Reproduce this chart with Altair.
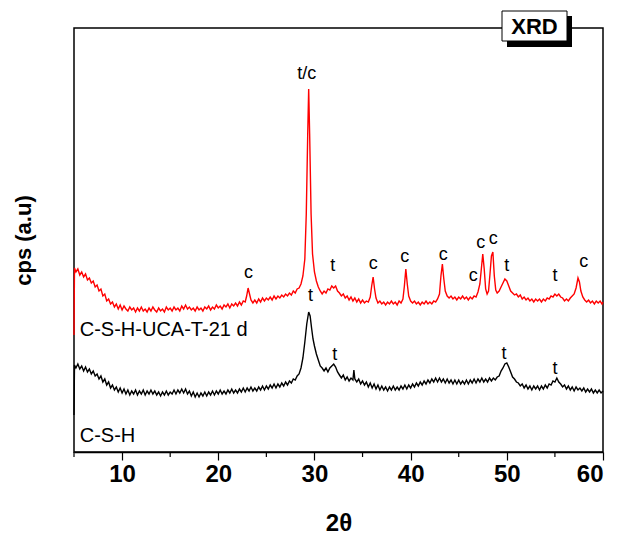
import altair as alt
import pandas as pd

# Diffraction scans: (2θ in degrees, intensity in arbitrary cps units)
red_scan = [
    (5.0, 119), (5.05, 186), (5.2, 182), (5.4, 185), (5.6, 179), (5.8, 182), (6.0, 177), (6.2, 180),
    (6.4, 174), (6.6, 176), (6.8, 171), (7.0, 173), (7.2, 167), (7.4, 169), (7.6, 163), (7.8, 165),
    (8.0, 158), (8.2, 160), (8.4, 153), (8.6, 155), (8.8, 150), (9.0, 152), (9.2, 147), (9.4, 150),
    (9.6, 145), (9.8, 149), (10.0, 144), (10.2, 148), (10.4, 145), (10.6, 143), (10.8, 147), (11.0, 144),
    (11.2, 146), (11.4, 142), (11.6, 146), (11.8, 143), (12.0, 147), (12.2, 143), (12.4, 145), (12.6, 142),
    (12.8, 146), (13.0, 143), (13.2, 147), (13.4, 144), (13.6, 142), (13.8, 146), (14.0, 143), (14.2, 145),
    (14.4, 142), (14.6, 147), (14.8, 144), (15.0, 146), (15.2, 143), (15.4, 147), (15.6, 144), (15.8, 146),
    (16.0, 143), (16.2, 148), (16.4, 145), (16.6, 149), (16.8, 145), (17.0, 147), (17.2, 144), (17.4, 146),
    (17.6, 143), (17.8, 147), (18.0, 144), (18.2, 146), (18.4, 143), (18.6, 147), (18.8, 145), (19.0, 148),
    (19.2, 144), (19.4, 147), (19.6, 145), (19.8, 149), (20.0, 146), (20.2, 148), (20.4, 145), (20.6, 149),
    (20.8, 147), (21.0, 150), (21.2, 146), (21.4, 150), (21.6, 148), (21.8, 151), (22.0, 148), (22.2, 152),
    (22.4, 149), (22.6, 153), (22.8, 152), (22.95, 158), (23.1, 166), (23.25, 160), (23.4, 154), (23.6, 151),
    (23.8, 154), (24.0, 151), (24.2, 155), (24.4, 152), (24.6, 156), (24.8, 153), (25.0, 156), (25.2, 154),
    (25.4, 157), (25.6, 154), (25.8, 158), (26.0, 155), (26.2, 158), (26.4, 156), (26.6, 159), (26.8, 157),
    (27.0, 160), (27.2, 158), (27.4, 161), (27.6, 159), (27.8, 163), (28.0, 161), (28.2, 165), (28.4, 166),
    (28.6, 170), (28.8, 178), (29.0, 195), (29.15, 240), (29.3, 320), (29.4, 365), (29.5, 320), (29.65, 240),
    (29.8, 200), (30.0, 182), (30.2, 173), (30.4, 167), (30.6, 163), (30.8, 160), (31.0, 163), (31.2, 161),
    (31.4, 165), (31.6, 164), (31.8, 168), (32.0, 166), (32.2, 168), (32.4, 163), (32.6, 161), (32.8, 158),
    (33.0, 160), (33.2, 156), (33.4, 158), (33.6, 154), (33.8, 157), (34.0, 153), (34.2, 156), (34.4, 152),
    (34.6, 155), (34.8, 151), (35.0, 154), (35.2, 151), (35.4, 153), (35.6, 152), (35.8, 157), (35.95, 168),
    (36.1, 177), (36.25, 165), (36.4, 156), (36.6, 151), (36.8, 153), (37.0, 150), (37.2, 152), (37.4, 149),
    (37.6, 152), (37.8, 150), (38.0, 153), (38.2, 150), (38.4, 152), (38.6, 149), (38.8, 153), (39.0, 151),
    (39.2, 155), (39.35, 168), (39.5, 185), (39.65, 170), (39.8, 158), (40.0, 153), (40.2, 151), (40.4, 153),
    (40.6, 150), (40.8, 152), (41.0, 149), (41.2, 152), (41.4, 150), (41.6, 153), (41.8, 150), (42.0, 152),
    (42.2, 150), (42.4, 153), (42.6, 152), (42.8, 155), (43.0, 160), (43.15, 178), (43.3, 190), (43.45, 175),
    (43.6, 163), (43.8, 158), (44.0, 156), (44.2, 158), (44.4, 155), (44.6, 157), (44.8, 154), (45.0, 157),
    (45.2, 155), (45.4, 158), (45.6, 155), (45.8, 157), (46.0, 154), (46.2, 157), (46.4, 155), (46.6, 158),
    (46.8, 157), (47.0, 162), (47.2, 170), (47.35, 185), (47.5, 200), (47.65, 185), (47.8, 165), (47.95, 160),
    (48.1, 163), (48.25, 180), (48.4, 198), (48.55, 202), (48.7, 178), (48.85, 164), (49.0, 161), (49.2, 163),
    (49.4, 167), (49.6, 171), (49.8, 175), (50.0, 173), (50.2, 168), (50.4, 163), (50.6, 161), (50.8, 159),
    (51.0, 160), (51.2, 157), (51.4, 159), (51.6, 155), (51.8, 157), (52.0, 154), (52.2, 156), (52.4, 153),
    (52.6, 155), (52.8, 152), (53.0, 155), (53.2, 153), (53.4, 155), (53.6, 152), (53.8, 155), (54.0, 153),
    (54.2, 156), (54.4, 155), (54.6, 158), (54.8, 157), (55.0, 160), (55.2, 158), (55.4, 160), (55.6, 157),
    (55.8, 156), (56.0, 153), (56.2, 155), (56.4, 153), (56.6, 156), (56.8, 158), (57.0, 160), (57.2, 166),
    (57.4, 176), (57.55, 172), (57.7, 163), (57.9, 157), (58.1, 154), (58.3, 152), (58.5, 154), (58.7, 151),
    (58.9, 153), (59.1, 150), (59.3, 153), (59.5, 151), (59.7, 153), (59.9, 150), (60.0, 152),
]

black_scan = [
    (5.0, 39), (5.05, 89), (5.2, 86), (5.4, 90), (5.6, 85), (5.8, 88), (6.0, 83), (6.2, 87),
    (6.4, 82), (6.6, 85), (6.8, 80), (7.0, 83), (7.2, 78), (7.4, 80), (7.6, 75), (7.8, 78),
    (8.0, 72), (8.2, 75), (8.4, 69), (8.6, 72), (8.8, 66), (9.0, 69), (9.2, 64), (9.4, 67),
    (9.6, 62), (9.8, 66), (10.0, 61), (10.2, 65), (10.4, 60), (10.6, 64), (10.8, 59), (11.0, 63),
    (11.2, 60), (11.4, 64), (11.6, 59), (11.8, 63), (12.0, 60), (12.2, 64), (12.4, 59), (12.6, 63),
    (12.8, 60), (13.0, 64), (13.2, 60), (13.4, 63), (13.6, 59), (13.8, 62), (14.0, 58), (14.2, 62),
    (14.4, 59), (14.6, 63), (14.8, 59), (15.0, 62), (15.2, 60), (15.4, 64), (15.6, 60), (15.8, 64),
    (16.0, 61), (16.2, 65), (16.4, 61), (16.6, 65), (16.8, 60), (17.0, 63), (17.2, 58), (17.4, 62),
    (17.6, 57), (17.8, 61), (18.0, 57), (18.2, 61), (18.4, 58), (18.6, 62), (18.8, 58), (19.0, 62),
    (19.2, 59), (19.4, 63), (19.6, 59), (19.8, 63), (20.0, 60), (20.2, 64), (20.4, 60), (20.6, 63),
    (20.8, 60), (21.0, 64), (21.2, 61), (21.4, 65), (21.6, 61), (21.8, 64), (22.0, 61), (22.2, 65),
    (22.4, 62), (22.6, 66), (22.8, 62), (23.0, 66), (23.2, 63), (23.4, 67), (23.6, 63), (23.8, 66),
    (24.0, 63), (24.2, 67), (24.4, 64), (24.6, 68), (24.8, 64), (25.0, 68), (25.2, 65), (25.4, 69),
    (25.6, 66), (25.8, 70), (26.0, 66), (26.2, 70), (26.4, 67), (26.6, 71), (26.8, 68), (27.0, 72),
    (27.2, 69), (27.4, 73), (27.6, 71), (27.8, 75), (28.0, 74), (28.2, 78), (28.4, 80), (28.6, 86),
    (28.8, 96), (29.0, 112), (29.2, 130), (29.4, 142), (29.55, 138), (29.7, 126), (29.85, 115), (30.0, 108),
    (30.2, 100), (30.4, 94), (30.6, 88), (30.8, 86), (31.0, 83), (31.2, 86), (31.4, 82), (31.6, 86),
    (31.8, 88), (32.0, 90), (32.2, 87), (32.4, 82), (32.6, 79), (32.8, 76), (33.0, 79), (33.2, 74),
    (33.4, 77), (33.6, 73), (33.8, 76), (34.0, 74), (34.1, 84), (34.2, 75), (34.4, 72), (34.6, 75),
    (34.8, 70), (35.0, 73), (35.2, 69), (35.4, 72), (35.6, 67), (35.8, 71), (36.0, 66), (36.2, 70),
    (36.4, 65), (36.6, 69), (36.8, 64), (37.0, 68), (37.2, 64), (37.4, 67), (37.6, 63), (37.8, 67),
    (38.0, 64), (38.2, 68), (38.4, 64), (38.6, 67), (38.8, 64), (39.0, 68), (39.2, 65), (39.4, 69),
    (39.6, 65), (39.8, 69), (40.0, 66), (40.2, 70), (40.4, 67), (40.6, 71), (40.8, 68), (41.0, 72),
    (41.2, 69), (41.4, 73), (41.6, 70), (41.8, 74), (42.0, 71), (42.2, 75), (42.4, 72), (42.6, 76),
    (42.8, 72), (43.0, 76), (43.2, 72), (43.4, 75), (43.6, 71), (43.8, 75), (44.0, 71), (44.2, 74),
    (44.4, 70), (44.6, 74), (44.8, 70), (45.0, 74), (45.2, 70), (45.4, 73), (45.6, 70), (45.8, 74),
    (46.0, 70), (46.2, 74), (46.4, 71), (46.6, 75), (46.8, 71), (47.0, 75), (47.2, 72), (47.4, 76),
    (47.6, 72), (47.8, 75), (48.0, 72), (48.2, 76), (48.4, 73), (48.6, 76), (48.8, 74), (49.0, 77),
    (49.2, 78), (49.4, 83), (49.6, 86), (49.8, 90), (50.0, 91), (50.2, 87), (50.4, 82), (50.6, 77),
    (50.8, 75), (51.0, 72), (51.2, 71), (51.4, 68), (51.6, 70), (51.8, 66), (52.0, 69), (52.2, 65),
    (52.4, 68), (52.6, 64), (52.8, 68), (53.0, 65), (53.2, 68), (53.4, 64), (53.6, 68), (53.8, 65),
    (54.0, 69), (54.2, 66), (54.4, 70), (54.6, 69), (54.8, 73), (55.0, 72), (55.2, 76), (55.4, 72),
    (55.6, 70), (55.8, 67), (56.0, 69), (56.2, 65), (56.4, 68), (56.6, 64), (56.8, 67), (57.0, 63),
    (57.2, 67), (57.4, 64), (57.6, 66), (57.8, 63), (58.0, 66), (58.2, 62), (58.4, 65), (58.6, 62),
    (58.8, 65), (59.0, 61), (59.2, 64), (59.4, 61), (59.6, 64), (59.8, 61), (60.0, 63),
]

sample_names = ["C-S-H-UCA-T-21 d", "C-S-H"]
sample_colors = ["#ff0000", "#000000"]
sample_label_2theta = [5.6, 5.6]
sample_label_cps = [124, 18]

# Phase markers (t = tobermorite, c = calcite)
peak_phase = ["t/c", "c", "t", "c", "c", "c", "c", "c", "c", "t", "t", "c",
              "t", "t", "t", "t"]
peak_2theta = [29.2, 23.15, 31.9, 36.1, 39.4, 43.4, 46.5, 47.3, 48.6, 50.0, 55.0, 58.0,
               29.6, 32.1, 49.7, 55.0]
peak_cps = [380, 181, 188, 190, 197, 199, 178, 211, 215, 188, 178, 192,
            158, 99, 100, 85]

major_ticks = [10, 20, 30, 40, 50, 60]
minor_ticks = [5, 15, 25, 35, 45, 55]

FONT = "Liberation Sans"
W, H = 529, 424

rows = []
for name, scan in zip(sample_names, [red_scan, black_scan]):
    for tt, c in scan:
        rows.append({"two_theta": tt, "cps": c, "sample": name})
scan_df = pd.DataFrame(rows)

peaks_df = pd.DataFrame({"two_theta": peak_2theta, "cps": peak_cps, "phase": peak_phase})
names_df = pd.DataFrame({"two_theta": sample_label_2theta, "cps": sample_label_cps,
                         "sample": sample_names})
minor_df = pd.DataFrame({"two_theta": minor_ticks})

x_scale = alt.Scale(domain=[5, 60], nice=False, zero=False)
y_scale = alt.Scale(domain=[2, 426], nice=False, zero=False)

x_enc = alt.X(
    "two_theta:Q", scale=x_scale,
    axis=alt.Axis(
        title="2θ", values=major_ticks, format="d", grid=False,
        labelFont=FONT, labelFontSize=24, labelFontWeight="bold", labelColor="black",
        labelPadding=2, tickSize=8, tickColor="black", tickWidth=1.2,
        domainColor="black", domainWidth=1.5,
        titleFont=FONT, titleFontSize=24, titleFontWeight="bold", titleColor="black",
        titlePadding=25,
    ),
)
y_enc = alt.Y(
    "cps:Q", scale=y_scale,
    axis=alt.Axis(
        title="cps (a.u)", labels=False, ticks=False, domain=False, grid=False,
        titleFont=FONT, titleFontSize=22, titleFontWeight="bold", titleColor="black",
        titlePadding=39,
    ),
)

lines = alt.Chart(scan_df).mark_line(strokeWidth=1.4).encode(
    x=x_enc,
    y=y_enc,
    color=alt.Color("sample:N", scale=alt.Scale(domain=sample_names, range=sample_colors),
                    legend=None),
    order=alt.Order("two_theta:Q"),
)

peak_text = alt.Chart(peaks_df).mark_text(
    font=FONT, fontSize=18, color="black", baseline="middle", align="center"
).encode(x=alt.X("two_theta:Q", scale=x_scale), y=alt.Y("cps:Q", scale=y_scale),
         text="phase:N")

name_text = alt.Chart(names_df).mark_text(
    font=FONT, fontSize=20, color="black", baseline="middle", align="left"
).encode(x=alt.X("two_theta:Q", scale=x_scale), y=alt.Y("cps:Q", scale=y_scale),
         text="sample:N")

minor = alt.Chart(minor_df).mark_rule(color="black", strokeWidth=1.2).encode(
    x=alt.X("two_theta:Q", scale=x_scale), y=alt.value(H), y2=alt.value(H + 5)
)

# "XRD" tag with drop shadow, sitting on the top frame line
tag_df = pd.DataFrame({"label": ["XRD"]})
tag_shadow = alt.Chart(tag_df).mark_rect(color="black").encode(
    x=alt.value(433), x2=alt.value(498), y=alt.value(-12), y2=alt.value(19)
)
tag_box = alt.Chart(tag_df).mark_rect(fill="white", stroke="black", strokeWidth=1).encode(
    x=alt.value(428), x2=alt.value(493), y=alt.value(-17), y2=alt.value(13)
)
tag_text = alt.Chart(tag_df).mark_text(
    font=FONT, fontSize=22, fontWeight="bold", color="black", baseline="middle", align="center"
).encode(x=alt.value(460.5), y=alt.value(-1), text="label:N")

chart = alt.layer(
    lines, minor, peak_text, name_text, tag_shadow, tag_box, tag_text
).properties(
    width=W, height=H,
    autosize=alt.AutoSizeParams(type="none"),
    padding={"left": 74, "top": 28, "right": 17, "bottom": 82},
    background="white",
).configure_view(stroke="black", strokeWidth=1.5)

chart.save("out.html", embed_options={"renderer": "svg", "actions": False})
